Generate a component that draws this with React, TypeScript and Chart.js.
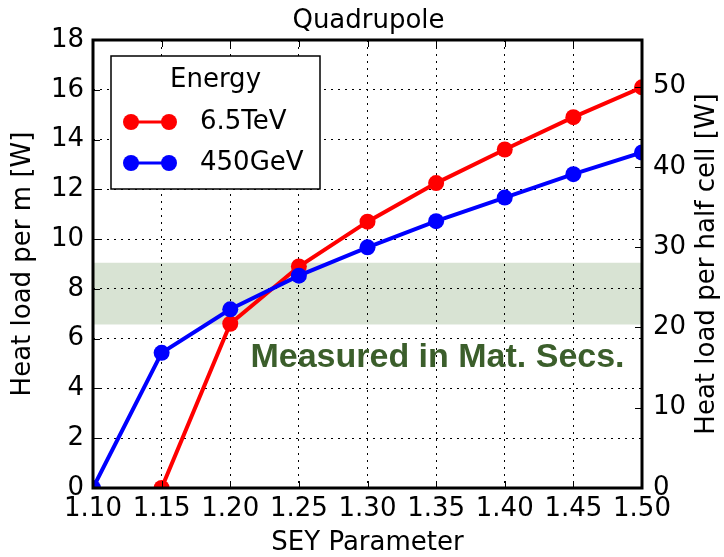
import React, { useEffect, useRef } from "react";
import { Chart, registerables } from "chart.js";

Chart.register(...registerables);

const seyValues = [1.1, 1.15, 1.2, 1.25, 1.3, 1.35, 1.4, 1.45, 1.5];
const heat65TeV = [null, 0, 6.6, 8.9, 10.7, 12.25, 13.6, 14.9, 16.1];
const heat450GeV = [0, 5.43, 7.18, 8.53, 9.67, 10.72, 11.67, 12.61, 13.48];
const seriesLabels = ["6.5TeV", "450GeV"];
const seriesColors = ["#ff0000", "#0000ff"];
const leftTicks = [0, 2, 4, 6, 8, 10, 12, 14, 16, 18];
const rightTicks = [0, 10, 20, 30, 40, 50];
const halfCellFactor = 3.1;
const measuredBand = [6.57, 9.05];
const measuredText = "Measured in Mat. Secs.";
const titleText = "Quadrupole";
const legendTitle = "Energy";

const FONT = "'DejaVu Sans', sans-serif";

const toPoints = (ys: (number | null)[]) =>
  seyValues
    .map((x, i) => ({ x, y: ys[i] }))
    .filter((p) => p.y !== null) as { x: number; y: number }[];

export default function App() {
  const ref = useRef<HTMLCanvasElement | null>(null);

  useEffect(() => {
    const canvas = ref.current!;
    const decor = {
      id: "decor",
      beforeDraw(chart: any) {
        const { ctx, chartArea: a, scales } = chart;
        const y = scales.y;
        ctx.save();
        ctx.fillStyle = "#d8e3d3";
        const top = y.getPixelForValue(measuredBand[1]);
        const bot = y.getPixelForValue(measuredBand[0]);
        ctx.fillRect(a.left, top, a.right - a.left, bot - top);
        ctx.restore();
      },
      afterDatasetsDraw(chart: any) {
        const { ctx, chartArea: a, scales } = chart;
        const x = scales.x, y = scales.y, y2 = scales.y2;
        ctx.save();
        // measured text
        ctx.fillStyle = "#3b5e2b";
        ctx.font = "bold 34px 'Liberation Sans', Arial, sans-serif";
        ctx.textAlign = "center";
        ctx.textBaseline = "middle";
        ctx.fillText(measuredText, x.getPixelForValue(1.351), y.getPixelForValue(5.25));

        // frame
        ctx.strokeStyle = "#000";
        ctx.lineWidth = 3;
        ctx.strokeRect(a.left, a.top, a.right - a.left, a.bottom - a.top);
        // inward ticks
        ctx.lineWidth = 1;
        const tl = 7;
        ctx.beginPath();
        seyValues.forEach((v) => {
          const px = Math.round(x.getPixelForValue(v)) + 0.5;
          ctx.moveTo(px, a.bottom);
          ctx.lineTo(px, a.bottom - tl);
          ctx.moveTo(px, a.top);
          ctx.lineTo(px, a.top + tl);
        });
        leftTicks.forEach((v) => {
          const py = Math.round(y.getPixelForValue(v)) + 0.5;
          ctx.moveTo(a.left, py);
          ctx.lineTo(a.left + tl, py);
        });
        rightTicks.forEach((v) => {
          const py = Math.round(y2.getPixelForValue(v)) + 0.5;
          ctx.moveTo(a.right, py);
          ctx.lineTo(a.right - tl, py);
        });
        ctx.stroke();

        // title & axis titles
        ctx.fillStyle = "#000";
        ctx.font = `26px ${FONT}`;
        ctx.textAlign = "center";
        ctx.textBaseline = "middle";
        const cx = (a.left + a.right) / 2;
        const cy = (a.top + a.bottom) / 2;
        ctx.fillText(titleText, cx + 1, 21);
        ctx.fillText("SEY Parameter", cx, 543);
        ctx.save();
        ctx.translate(23, cy);
        ctx.rotate(-Math.PI / 2);
        ctx.fillText("Heat load per m [W]", 0, 0);
        ctx.restore();
        ctx.save();
        ctx.translate(707, cy);
        ctx.rotate(-Math.PI / 2);
        ctx.fillText("Heat load per half cell [W]", 0, 0);
        ctx.restore();

        // legend
        const lx = 111, ly = 56, lw = 209, lh = 133;
        ctx.fillStyle = "#fff";
        ctx.fillRect(lx, ly, lw, lh);
        ctx.strokeStyle = "#000";
        ctx.lineWidth = 1.5;
        ctx.strokeRect(lx, ly, lw, lh);
        ctx.fillStyle = "#000";
        ctx.textAlign = "center";
        ctx.fillText(legendTitle, lx + lw / 2, 80);
        const rows = [122, 163];
        seriesLabels.forEach((lab, i) => {
          const ry = rows[i];
          ctx.strokeStyle = seriesColors[i];
          ctx.fillStyle = seriesColors[i];
          ctx.lineWidth = 3;
          ctx.beginPath();
          ctx.moveTo(131, ry);
          ctx.lineTo(169, ry);
          ctx.stroke();
          [131, 169].forEach((mx) => {
            ctx.beginPath();
            ctx.arc(mx, ry, 8, 0, Math.PI * 2);
            ctx.fill();
          });
          ctx.fillStyle = "#000";
          ctx.textAlign = "left";
          ctx.fillText(lab, 200, ry);
        });
        ctx.restore();
      },
    };

    const chart = new Chart(canvas, {
      type: "line",
      data: {
        datasets: [
          {
            label: seriesLabels[0],
            data: toPoints(heat65TeV),
            borderColor: seriesColors[0],
            backgroundColor: seriesColors[0],
            borderWidth: 4,
            pointRadius: 8,
            pointBorderWidth: 0,
            pointHoverRadius: 8,
            order: 2,
            yAxisID: "y",
          },
          {
            label: seriesLabels[1],
            data: toPoints(heat450GeV),
            borderColor: seriesColors[1],
            backgroundColor: seriesColors[1],
            borderWidth: 4,
            pointRadius: 8,
            pointBorderWidth: 0,
            pointHoverRadius: 8,
            order: 1,
            yAxisID: "y",
          },
        ],
      },
      options: {
        animation: false,
        responsive: false,
        events: [],
        layout: { padding: { top: 40, left: 0, right: 0, bottom: 0 } },
        plugins: { legend: { display: false }, title: { display: false }, tooltip: { enabled: false } },
        scales: {
          x: {
            type: "linear",
            min: 1.1,
            max: 1.5,
            afterBuildTicks: (s: any) => {
              s.ticks = seyValues.map((v) => ({ value: v }));
            },
            afterFit: (s: any) => {
              s.height = 69;
            },
            ticks: {
              callback: (v: any) => Number(v).toFixed(2),
              font: { size: 26, family: FONT },
              color: "#000",
              padding: 6,
              maxRotation: 0,
              autoSkip: false,
            },
            grid: { color: "#000", lineWidth: 1, drawTicks: false },
            border: { display: false, dash: [2, 5] },
          },
          y: {
            position: "left",
            min: 0,
            max: 18,
            afterBuildTicks: (s: any) => {
              s.ticks = leftTicks.map((v) => ({ value: v }));
            },
            afterFit: (s: any) => {
              s.width = 93;
            },
            ticks: { font: { size: 26, family: FONT }, color: "#000", padding: 9 },
            grid: { color: "#000", lineWidth: 1, drawTicks: false },
            border: { display: false, dash: [2, 5] },
          },
          y2: {
            position: "right",
            min: 0,
            max: 18 * halfCellFactor,
            afterBuildTicks: (s: any) => {
              s.ticks = rightTicks.map((v) => ({ value: v }));
            },
            afterFit: (s: any) => {
              s.width = 82;
            },
            ticks: { font: { size: 26, family: FONT }, color: "#000", padding: 11 },
            grid: { display: false, drawTicks: false },
            border: { display: false },
          },
        },
      },
      plugins: [decor],
    });
    return () => chart.destroy();
  }, []);

  return (
    <div style={{ position: "absolute", left: 0, top: 0, width: 724, height: 557, background: "#fff" }}>
      <canvas ref={ref} width={724} height={557} style={{ width: 724, height: 557, display: "block" }} />
    </div>
  );
}
